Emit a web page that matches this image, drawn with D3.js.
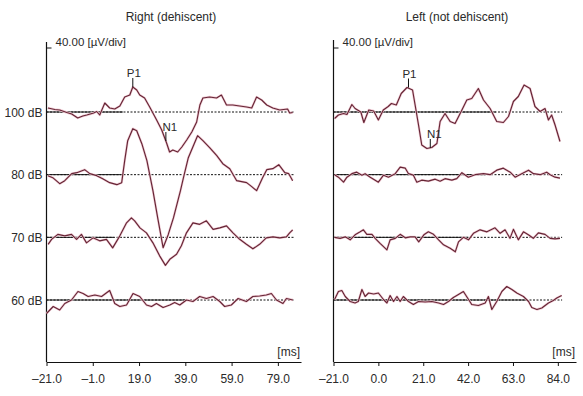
<html>
<head>
<meta charset="utf-8">
<script src="https://d3js.org/d3.v7.min.js"></script>
<style>
    body { margin: 0; background: #fff; }
    text { font-family: "Liberation Sans", Arial, sans-serif; fill: #2a2a2a; }
</style>
</head>
<body>
<div id="chart"></div>
<script>
    // stimulus levels, one trace row each
    var levels = ["100 dB", "80 dB", "70 dB", "60 dB"];
    var rightTicks = [-21, -1, 19, 39, 59, 79];
    var leftTicks = [-21, 0, 21, 42, 63, 84];

    // Right ear (dehiscent): [ms, µV]
    var dehiscent100 = [[-20.4, 8], [-17.4, 5], [-15.3, 4], [-12.2, -1], [-10.1, -4], [-7.5, -12], [-5.3, -8], [-3.6, -6],
        [-0.6, -2], [0.7, 1], [2.0, -6], [4.2, 18], [6.3, 8], [8.5, 6], [10.7, 12], [12.8, 30], [15.0, 34], [16.3, 50],
        [18.0, 44], [19.3, 34], [21.4, 28], [23.6, 10], [26.6, -16], [28.8, -36], [30.9, -62], [32.2, -80], [33.6, -76],
        [35.7, -80], [37.5, -70], [39.6, -56], [41.8, -40], [43.9, -20], [45.3, 14], [46.6, 28], [49.5, 30], [52.5, 28],
        [54.6, 34], [56.8, 14], [59.5, 14], [62.5, 12], [65.5, 10], [67.7, 8], [69.8, 30], [72.0, 24], [74.2, 14],
        [76.8, 8], [79.8, 4], [83.2, 6], [84.1, -2], [85.4, -1]];
    var dehiscent80 = [[-20.4, -2], [-18.3, -6], [-15.3, -18], [-13.1, -12], [-10.1, 2], [-7.9, 4], [-4.5, 10], [-2.3, 2],
        [0.7, -2], [3.3, -8], [6.3, -16], [9.4, -20], [11.5, -16], [12.8, 28], [14.1, 68], [16.3, 92], [18.0, 88],
        [20.2, 62], [22.4, 28], [25.0, -32], [27.2, -90], [29.4, -146], [31.6, -120], [33.9, -86], [36.9, -32],
        [38.2, -6], [40.3, 34], [44.3, 78], [46.6, 68], [49.5, 54], [52.6, 38], [55.2, 22], [58.2, 12], [61.2, -12],
        [65.5, -16], [67.7, -24], [69.8, -32], [72.4, -6], [74.2, 10], [76.8, 12], [79.4, 20], [82.0, 4], [83.7, 2],
        [85.4, -12]];
    var dehiscent70 = [[-20.3, -14], [-18.8, -4], [-16.1, 6], [-13.1, 3], [-10.2, 6], [-8.0, -4], [-5.9, 6], [-3.7, -11],
        [-0.9, -1], [2.0, -7], [4.9, -4], [7.6, -21], [10.7, 3], [13.6, 29], [15.7, 39], [17.1, 33], [19.4, 19],
        [22.2, 9], [25.0, -11], [27.9, -37], [30.4, -56], [32.3, -44], [35.2, -34], [37.3, -17], [39.5, 9], [42.3, 29],
        [45.2, 26], [48.1, 33], [51.0, 16], [53.9, 19], [56.8, 23], [59.6, 9], [62.5, -4], [65.4, -14], [68.2, -23],
        [71.1, -14], [74.0, -1], [76.9, 1], [79.8, -1], [82.7, 1], [84.1, 9], [85.4, 15]];
    var dehiscent60 = [[-21.0, -27], [-18.1, -13], [-15.3, -20], [-13.1, -7], [-10.2, 0], [-7.4, 17], [-5.2, 13], [-3.0, 7],
        [-0.1, 10], [2.8, 7], [6.3, 19], [8.5, -7], [10.7, -13], [13.6, -10], [16.4, 13], [19.3, 7], [22.2, -10],
        [24.4, -13], [26.5, -7], [29.4, -15], [32.3, -10], [34.4, -5], [36.6, -10], [39.5, 0], [42.3, -3], [45.2, 7],
        [48.1, 3], [51.0, 7], [53.9, -3], [56.0, -13], [58.9, -10], [61.8, 3], [65.4, -3], [68.2, 7], [71.1, 8],
        [74.0, 10], [76.2, 13], [78.4, 0], [81.2, -7], [82.7, 3], [85.5, 0]];

    // Left ear (not dehiscent): [ms, µV]
    var notDehiscent100 = [[-20.5, -13], [-18.7, -6], [-16.3, -3], [-14.7, -5], [-12.4, 15], [-10.9, 7], [-8.2, 0],
        [-6.8, -21], [-4.5, 4], [-2.2, 2], [0.0, -16], [2.3, 4], [4.6, 11], [6.1, 17], [8.4, 14], [10.7, 37], [13.4, 49],
        [16.0, 44], [17.2, 14], [18.8, -26], [20.3, -66], [22.7, -73], [25.0, -71], [27.4, -63], [28.9, -19],
        [31.2, -3], [33.6, -19], [35.9, -23], [39.1, 4], [41.4, 24], [43.7, 27], [46.8, 47], [49.2, 24], [52.3, 7],
        [55.4, -19], [58.5, -21], [60.9, -9], [63.2, 21], [65.5, 31], [68.2, 54], [71.0, 47], [73.3, 11], [75.7, 1],
        [78.0, 7], [79.6, -16], [81.1, -6], [82.7, -26], [85.0, -59]];
    var notDehiscent80 = [[-20.5, 0], [-18.7, -5], [-16.3, -15], [-14.7, -5], [-12.4, 2], [-10.1, 5], [-7.7, -1],
        [-6.2, 2], [-3.8, -5], [-1.5, -11], [0.0, -15], [2.4, -1], [4.7, -5], [7.9, 2], [10.2, 15], [12.6, 13],
        [14.1, 2], [16.4, -1], [18.0, -15], [20.3, -11], [23.4, -13], [26.6, -9], [28.9, -13], [31.2, -8], [34.4, -11],
        [36.7, -8], [39.1, 4], [42.1, -5], [45.3, 0], [49.2, 2], [52.3, 0], [55.4, 9], [58.5, 13], [61.7, 5],
        [64.0, -5], [67.1, 2], [70.3, 9], [72.6, 2], [75.7, 0], [78.8, 5], [80.4, 0], [82.7, -5], [85.0, -7]];
    var notDehiscent70 = [[-20.5, 0], [-17.9, -2], [-15.5, 1], [-13.2, -5], [-10.9, 5], [-8.5, 11], [-7.0, 15], [-5.4, 6],
        [-3.0, 6], [-1.5, -2], [0.8, -12], [4.0, -25], [5.5, -5], [7.9, -2], [10.2, 6], [12.6, -1], [14.9, 1],
        [17.2, 1], [18.9, -9], [21.3, 5], [23.4, 11], [25.8, 6], [28.2, -5], [30.5, -15], [33.6, -22], [36.0, -29],
        [37.5, -9], [39.8, 0], [42.2, -5], [44.5, 8], [47.6, 15], [50.8, 11], [54.6, 19], [57.0, 8], [59.3, 15],
        [61.6, -2], [63.2, 16], [65.5, -5], [67.9, 11], [70.2, 5], [72.5, -2], [74.9, 9], [78.0, 6], [80.4, -2],
        [82.7, -3], [85.0, -2]];
    var notDehiscent60 = [[-20.5, 1], [-18.7, 17], [-17.1, 19], [-15.5, 7], [-13.2, -3], [-10.9, -6], [-9.4, -3],
        [-7.7, 21], [-6.2, 7], [-4.6, 14], [-2.2, 12], [0.0, 14], [2.4, 1], [4.0, -6], [5.5, 9], [7.1, -3], [8.7, 7],
        [10.2, -3], [11.7, 7], [14.1, -3], [16.4, -9], [18.8, -3], [21.9, -4], [25.0, -3], [28.2, -6], [30.5, -9],
        [32.8, -3], [35.1, 5], [36.7, 9], [39.8, 17], [42.2, 1], [43.7, -9], [46.8, -11], [50.0, -6], [51.5, 7],
        [53.1, -19], [55.4, -3], [57.8, 17], [60.1, 27], [62.5, 21], [64.8, 14], [67.9, 7], [70.3, -3], [71.8, -15],
        [74.2, -19], [76.5, -16], [79.6, -6], [81.9, -1], [83.5, 4], [85.8, 9]];

    // wave labels: [level, name, ms, µV]
    var dehiscentPeaks = [["100 dB", "P1", 16.3, 50], ["100 dB", "N1", 30.6, -58]];
    var notDehiscentPeaks = [["100 dB", "P1", 14.1, 49], ["100 dB", "N1", 24.3, -72]];

    var width = 583;
    var height = 396;
    var xAxisY = 362;

    var svg = d3.select("#chart").append("svg")
        .attr("width", width)
        .attr("height", height);

    var panels = [
        { title: "Right (dehiscent)", titleX: 171, traces: [dehiscent100, dehiscent80, dehiscent70, dehiscent60],
          peaks: dehiscentPeaks, ticks: rightTicks, domain: [-21, 89], range: [46.5, 301], axisTop: 42,
          lineEnd: 86, solidTo: [12, 12, 8, 40], showLevels: true },
        { title: "Left (not dehiscent)", titleX: 457, traces: [notDehiscent100, notDehiscent80, notDehiscent70, notDehiscent60],
          peaks: notDehiscentPeaks, ticks: leftTicks, domain: [-21, 92.5], range: [333.5, 576], axisTop: 40,
          lineEnd: 86, solidTo: [55, 50, 42, 70], showLevels: false }
    ];

    var rows = d3.scalePoint().domain(levels).range([112, 300]);

    function amp(level) {
        var b = rows(level);
        return d3.scaleLinear().domain([-100, 100]).range([b + 50, b - 50]);
    }

    function fmt(d) {
        return (d < 0 ? "\u2013" + (-d).toFixed(1) : d.toFixed(1));
    }

    panels.forEach(function (p) {
        var xs = d3.scaleLinear().domain(p.domain).range(p.range);
        var g = svg.append("g");
        var x0 = xs(-21);

        // title
        g.append("text")
            .attr("x", p.titleX)
            .attr("y", 21)
            .attr("text-anchor", "middle")
            .style("font-size", "12px")
            .text(p.title);

        // vertical axis + scale note
        g.append("line")
            .attr("x1", x0).attr("x2", x0)
            .attr("y1", p.axisTop).attr("y2", xAxisY)
            .attr("stroke", "#111").attr("stroke-width", 1.2);
        g.append("line")
            .attr("x1", x0).attr("x2", x0 + 5)
            .attr("y1", 48).attr("y2", 48)
            .attr("stroke", "#111").attr("stroke-width", 1);
        g.append("text")
            .attr("x", x0 + 9)
            .attr("y", 46)
            .style("font-size", "11.5px")
            .text("40.00 [\u00b5V/div]");

        // baselines: dotted full length, solid part on top
        levels.forEach(function (lev, i) {
            var b = rows(lev);
            g.append("line")
                .attr("x1", x0).attr("x2", xs(p.lineEnd))
                .attr("y1", b).attr("y2", b)
                .attr("stroke", "#111").attr("stroke-width", 1)
                .attr("stroke-dasharray", "2,1.5");
            g.append("line")
                .attr("x1", x0).attr("x2", xs(p.solidTo[i]))
                .attr("y1", b).attr("y2", b)
                .attr("stroke", "#111").attr("stroke-width", 1);
            if (p.showLevels) {
                g.append("text")
                    .attr("x", x0 - 4)
                    .attr("y", b + 4.5)
                    .attr("text-anchor", "end")
                    .style("font-size", "12px")
                    .text(lev);
            }
        });

        // traces
        p.traces.forEach(function (tr, i) {
            var ys = amp(levels[i]);
            var line = d3.line()
                .x(function (d) { return xs(d[0]); })
                .y(function (d) { return ys(d[1]); });
            g.append("path")
                .attr("d", line(tr))
                .attr("fill", "none")
                .attr("stroke", "#f1cdd6")
                .attr("stroke-width", 2.4)
                .attr("stroke-linejoin", "round");
            g.append("path")
                .attr("d", line(tr))
                .attr("fill", "none")
                .attr("stroke", "#652535")
                .attr("stroke-width", 1.15)
                .attr("stroke-linejoin", "round");
        });

        // P1 / N1 marks
        p.peaks.forEach(function (pk) {
            var ys = amp(pk[0]);
            var px = xs(pk[2]);
            var py = ys(pk[3]);
            g.append("line")
                .attr("x1", px).attr("x2", px)
                .attr("y1", py - 9).attr("y2", py)
                .attr("stroke", "#111").attr("stroke-width", 1);
            g.append("text")
                .attr("x", pk[1] == "N1" ? px + 4 : px + 1)
                .attr("y", py - 10)
                .attr("text-anchor", "middle")
                .style("font-size", "11.5px")
                .text(pk[1]);
        });

        // x axis
        var ax = g.append("g")
            .attr("transform", "translate(0," + xAxisY + ")")
            .call(d3.axisBottom(xs).tickValues(p.ticks).tickSize(4).tickSizeOuter(0).tickPadding(8).tickFormat(fmt));
        ax.select(".domain").attr("stroke", "#111").attr("stroke-width", 1.2);
        ax.selectAll(".tick line").attr("stroke", "#111");
        ax.selectAll(".tick text")
            .style("font-size", "12px")
            .style("font-family", "'Liberation Sans', Arial, sans-serif")
            .attr("fill", "#2a2a2a");

        g.append("text")
            .attr("x", p.range[1] - 1)
            .attr("y", 356)
            .attr("text-anchor", "end")
            .style("font-size", "12px")
            .text("[ms]");
    });
</script>
</body>
</html>
